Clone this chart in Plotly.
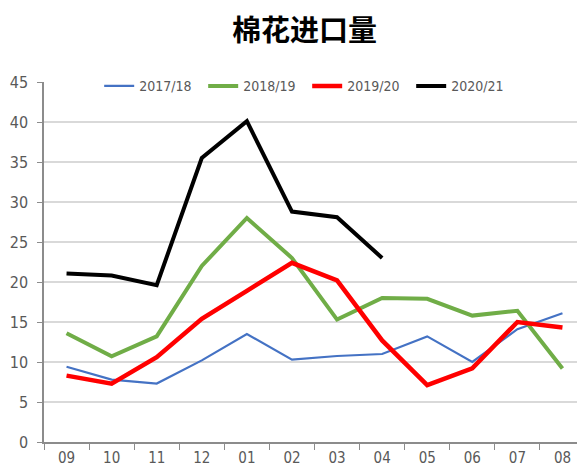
import plotly.graph_objects as go

months = ["09", "10", "11", "12", "01", "02", "03", "04", "05", "06", "07", "08"]
s1718 = [9.4, 7.8, 7.3, 10.2, 13.5, 10.3, 10.75, 11.0, 13.2, 10.0, 14.1, 16.1]
s1819 = [13.6, 10.7, 13.2, 22.0, 28.0, 23.0, 15.3, 18.0, 17.9, 15.8, 16.4, 9.2]
s1920 = [8.3, 7.3, 10.6, 15.4, 18.9, 22.4, 20.2, 12.7, 7.1, 9.2, 15.0, 14.3]
s2021 = [21.05, 20.8, 19.6, 35.5, 40.1, 28.8, 28.1, 23.0]

series = [
    ("2017/18", s1718, "#4472C4", 2.2),
    ("2018/19", s1819, "#70AD47", 4),
    ("2019/20", s1920, "#FF0000", 4.5),
    ("2020/21", s2021, "#000000", 4),
]

fig = go.Figure()
for name, vals, color, w in series:
    fig.add_trace(go.Scatter(
        x=months[:len(vals)], y=vals, name=name, mode="lines",
        line=dict(color=color, width=w),
    ))

font_fam = "DejaVu Sans Condensed, Liberation Sans Narrow, Liberation Sans, sans-serif"
fig.update_layout(
    width=585, height=470,
    margin=dict(l=36, r=8, t=74, b=36),
    paper_bgcolor="white", plot_bgcolor="white",
    title=dict(text="<b>棉花进口量</b>", x=0.507, xanchor="center", y=0.951, yanchor="middle",
               font=dict(family="Noto Sans CJK SC", size=29, color="black")),
    showlegend=True,
    legend=dict(orientation="h", x=0.102, xanchor="left", y=0.988, yanchor="middle",
                font=dict(family=font_fam, size=14, color="#595959"),
                bgcolor="rgba(255,255,255,0)", itemwidth=30, entrywidth=59,
                tracegroupgap=0),
    font=dict(family=font_fam, size=14, color="#595959"),
)
fig.update_xaxes(
    type="category", categoryorder="array", categoryarray=months,
    range=[-0.5, 11.5], automargin=False,
    showline=True, linecolor="#8c8c8c", linewidth=1.5,
    ticks="outside", tickson="boundaries", ticklen=6, tickcolor="#8c8c8c",
    ticklabelstandoff=1,
    showgrid=False, tickfont=dict(size=15, color="#595959"),
)
fig.update_yaxes(
    range=[0, 45], dtick=5, showline=True, linecolor="#8c8c8c", linewidth=1.5,
    ticks="outside", ticklen=5, tickcolor="#8c8c8c", automargin=False,
    ticklabelstandoff=6,
    gridcolor="#d9d9d9", gridwidth=2, zeroline=False,
    tickfont=dict(size=16, color="#595959"),
)
fig.write_html("out.html")
